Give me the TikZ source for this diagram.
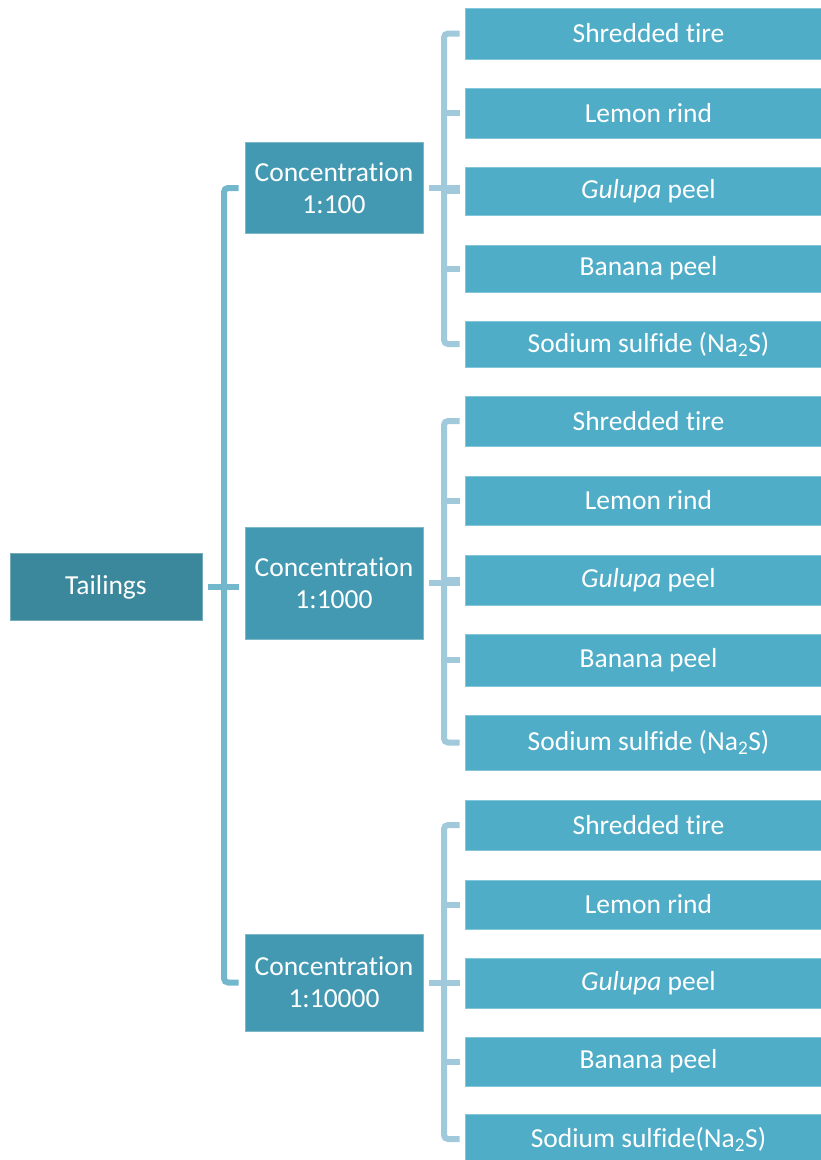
\documentclass[tikz,border=0pt]{standalone}
\usepackage{fontspec}
\setmainfont{Carlito}[Ligatures=NoCommon]
\definecolor{rootfill}{HTML}{3B889C}
\definecolor{midfill}{HTML}{4399B1}
\definecolor{leaffill}{HTML}{50ADC8}
\definecolor{trunkline}{HTML}{72B7CB}
\definecolor{branchline}{HTML}{A0CADB}
\tikzset{
  box/.style={inner sep=0pt, text=white, align=center,
    font=\fontsize{27.5}{32}\selectfont, line width=0.8pt},
  rootbox/.style={box, fill=rootfill, draw=rootfill!70!white,
    minimum width=192, minimum height=67},
  midbox/.style={box, fill=midfill, draw=midfill!70!white,
    minimum width=178},
  leafbox/.style={box, fill=leaffill, draw=leaffill!70!white,
    minimum width=367},
  trunk/.style={draw=trunkline, line width=6pt, rounded corners=4pt},
  branch/.style={draw=branchline, line width=6pt, rounded corners=4pt},
}
\begin{document}
\begin{tikzpicture}[x=1pt, y=-1pt]
\useasboundingbox (0,0) rectangle (820,1160);

% root and concentration levels
\node[rootbox] (root) at (106,587) {Tailings};
\node[midbox, minimum height=91]  (c1) at (334,188)   {Concentration\\1:100};
\node[midbox, minimum height=112] (c2) at (334,583)   {Concentration\\1:1000};
\node[midbox, minimum height=97]  (c3) at (334,982.5) {Concentration\\1:10000};

% adsorbents, first group
\node[leafbox, minimum height=51] (a1) at (648.5,33.5)  {Shredded tire};
\node[leafbox, minimum height=50] (a2) at (648.5,113)   {Lemon rind};
\node[leafbox, minimum height=48] (a3) at (648.5,191)   {\textit{Gulupa} peel};
\node[leafbox, minimum height=47] (a4) at (648.5,268.5) {Banana peel};
\node[leafbox, minimum height=46] (a5) at (648.5,344)   {Sodium sulfide (Na\textsubscript{2}S)};

% adsorbents, second group
\node[leafbox, minimum height=50] (b1) at (648.5,421)   {Shredded tire};
\node[leafbox, minimum height=49] (b2) at (648.5,500.5) {Lemon rind};
\node[leafbox, minimum height=50] (b3) at (648.5,580)   {\textit{Gulupa} peel};
\node[leafbox, minimum height=52] (b4) at (648.5,660)   {Banana peel};
\node[leafbox, minimum height=55] (b5) at (648.5,742.5) {Sodium sulfide (Na\textsubscript{2}S)};

% adsorbents, third group
\node[leafbox, minimum height=50] (d1) at (648.5,825)    {Shredded tire};
\node[leafbox, minimum height=49] (d2) at (648.5,904.5)  {Lemon rind};
\node[leafbox, minimum height=50] (d3) at (648.5,983)    {\textit{Gulupa} peel};
\node[leafbox, minimum height=49] (d4) at (648.5,1061.5) {Banana peel};
\node[leafbox, minimum height=50] (d5) at (648.5,1139)   {Sodium sulfide(Na\textsubscript{2}S)};

% x positions of the vertical bus lines
\coordinate (tr) at (224,0);
\coordinate (br) at (444,0);

% root to concentrations
\draw[trunk] ([xshift=6pt]root.east) -- ([xshift=-6pt]c2.west |- root.east);
\draw[trunk] ([xshift=-6pt]c1.west) -- (tr |- c1.west) -- (tr |- c3.west)
  -- ([xshift=-6pt]c3.west);

% concentrations to adsorbents
\foreach \c/\g in {c1/a, c2/b, c3/d} {
  \draw[branch] ([xshift=6pt]\c.east) -- ([xshift=-5pt]br |- \c.east)
    -- ([xshift=16pt]br |- \c.east);
  \draw[branch] ([xshift=-5pt]\g1.west) -- (br |- \g1.west) -- (br |- \g5.west)
    -- ([xshift=-5pt]\g5.west);
  \foreach \i in {2,3,4} {
    \draw[branch] (br |- \g\i.west) -- ([xshift=-5pt]\g\i.west);
  }
}
\end{tikzpicture}
\end{document}
